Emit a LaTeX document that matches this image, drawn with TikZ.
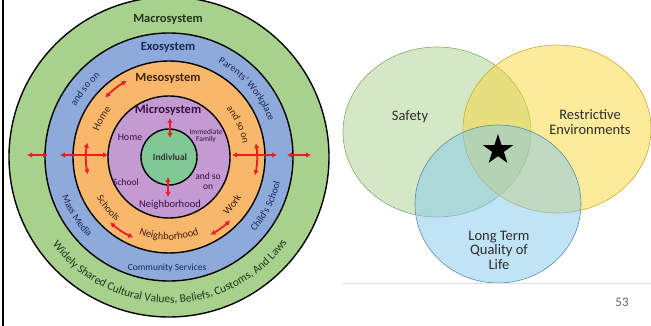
\documentclass[tikz,border=0pt]{standalone}
\usepackage{fontspec}
\setmainfont{Carlito}
\usepackage{xcolor}
\usetikzlibrary{arrows.meta, calc, decorations.text, shapes.geometric}

\definecolor{macro}{RGB}{169,209,142}
\definecolor{exo}{RGB}{142,170,219}
\definecolor{meso}{RGB}{249,183,108}
\definecolor{micro}{RGB}{196,154,211}
\definecolor{indiv}{RGB}{128,200,150}
\definecolor{arrred}{RGB}{235,28,36}
\definecolor{macrotext}{RGB}{30,55,25}
\definecolor{exotext}{RGB}{25,40,85}
\definecolor{mesotext}{RGB}{65,35,10}
\definecolor{microtext}{RGB}{55,15,70}
\definecolor{vgreen}{RGB}{170,210,140}
\definecolor{vyellow}{RGB}{250,215,55}
\definecolor{vblue}{RGB}{130,200,235}
\definecolor{vtext}{RGB}{45,45,45}

\newcommand{\fsz}[1]{\fontsize{#1}{#1}\selectfont}

\begin{document}
\begin{tikzpicture}[x=1pt, y=1pt,
    ring/.style={draw=black, line width=1.4pt},
    redarr/.style={draw=arrred, line width=1.8pt, {Latex[length=5pt,width=5.5pt]}-{Latex[length=5pt,width=5.5pt]}},
    title/.style={font=\fsz{12.5}\bfseries},
    arctext/.style n args={2}{decorate, decoration={text along path, text align=center, text color=#1, text={#2}}},
    vennset/.style={line width=0.7pt, fill opacity=0.5},
    vennlabel/.style={text=vtext, align=center, font=\fsz{14.5}}]
    \useasboundingbox (0,0) rectangle (651,326);

    % ---- left: nested systems ----
    \coordinate (ctr) at (169,169);
    \draw[line width=1.5pt] (3,0) -- (3,326);
    \foreach \r/\col in {160/macro, 124/exo, 96/meso, 61/micro, 28/indiv} {
        \draw[ring, fill=\col] (ctr) circle (\r pt);
    }

    \node[title, text=macrotext]  (macro) at (168,307) {Macrosystem};
    \node[title, text=exotext]    (exo)   at (168,279) {Exosystem};
    \node[title, text=mesotext]   (meso)  at (168,248) {Mesosystem};
    \node[title, text=microtext]  (micro) at (168,216) {Microsystem};

    \node[font=\fsz{9.5}\bfseries, text=black!80] (indv) at (170,169) {Indivlual};
    \node[font=\fsz{10}, text=microtext] (mhome) at (130,189) {Home};
    \node[font=\fsz{7.5}, text=microtext, align=center] (mfam) at (206,190) {Immediate\\Family};
    \node[font=\fsz{9.5}, text=microtext] (mschool) at (126,144) {School};
    \node[font=\fsz{9.5}, text=microtext, align=center] (mso) at (208,145) {and so\\[1pt]on};
    \node[font=\fsz{10.5}, text=microtext] (mneigh) at (170,121) {Neighborhood};

    % mesosystem ring
    \path[arctext={mesotext}{|\fsz{10.5}|Home}] ($(ctr)+(175:75pt)$) arc[start angle=175, end angle=125, radius=75pt];
    \path[arctext={mesotext}{|\fsz{10}|and so on}] ($(ctr)+(55:75pt)$) arc[start angle=55, end angle=-5, radius=75pt];
    \path[arctext={mesotext}{|\fsz{10}|Schools}] ($(ctr)+(195:83pt)$) arc[start angle=195, end angle=245, radius=83pt];
    \path[arctext={mesotext}{|\fsz{10.5}|Work}] ($(ctr)+(300:83pt)$) arc[start angle=300, end angle=346, radius=83pt];
    \path[arctext={mesotext}{|\fsz{10.5}|Neighborhood}] ($(ctr)+(235:83pt)$) arc[start angle=235, end angle=305, radius=83pt];

    % exosystem ring
    \path[arctext={exotext}{|\fsz{10}|and so on}] ($(ctr)+(170:106pt)$) arc[start angle=170, end angle=112, radius=106pt];
    \path[arctext={exotext}{|\fsz{10}|Parents' Workplace}] ($(ctr)+(78:106pt)$) arc[start angle=78, end angle=4, radius=106pt];
    \path[arctext={exotext}{|\fsz{10}|Mass Media}] ($(ctr)+(185:114pt)$) arc[start angle=185, end angle=240, radius=114pt];
    \path[arctext={exotext}{|\fsz{10}|Child's School}] ($(ctr)+(303:114pt)$) arc[start angle=303, end angle=363, radius=114pt];
    \node[font=\fsz{9.5}, text=exotext] (comm) at (167,58) {Community Services};

    % macrosystem ring
    \path[arctext={macrotext}{|\fsz{11.5}|Widely Shared Cultural Values, Beliefs, Customs, And Laws}] ($(ctr)+(203:146pt)$) arc[start angle=203, end angle=338, radius=146pt];

    % red arrows
    \draw[redarr] (170,208) -- (170,188);
    \draw[redarr] (168,149) -- (168,129);
    \draw[redarr] (60,171) -- (108,171);
    \draw[redarr] (232,171) -- (277,171);
    \draw[redarr] (27,171) -- (48,171);
    \draw[redarr] (287,171) -- (311,171);
    \draw[redarr] ($(ctr)+(192:83pt)$) arc[start angle=192, end angle=170, radius=83pt];
    \draw[redarr] ($(ctr)+(9:88pt)$) arc[start angle=9, end angle=-12, radius=88pt];
    \draw[redarr] ($(ctr)+(137:87pt)$) arc[start angle=137, end angle=119, radius=87pt];
    \draw[redarr] ($(ctr)+(228:88pt)$) arc[start angle=228, end angle=246, radius=88pt];
    \draw[redarr] ($(ctr)+(298:88pt)$) arc[start angle=298, end angle=314, radius=88pt];

    % ---- right: venn ----
    \fill[vennset, vgreen] (437,194) ellipse [x radius=94pt, y radius=85pt];
    \draw[vgreen!80!black, line width=0.6pt] (437,194) ellipse [x radius=94pt, y radius=85pt];
    \fill[vennset, vyellow] (557,197) ellipse [x radius=94pt, y radius=84pt];
    \draw[vyellow!80!black, line width=0.6pt] (557,197) ellipse [x radius=94pt, y radius=84pt];
    \fill[vennset, vblue] (498,122) ellipse [x radius=83pt, y radius=79pt];
    \draw[vblue!70!black, line width=0.6pt] (498,122) ellipse [x radius=83pt, y radius=79pt];

    \node[star, star points=5, star point ratio=2.6, fill=black, minimum size=32pt, inner sep=0pt] (star) at (498,176) {};
    \node[vennlabel] (safety) at (410,209) {Safety};
    \node[vennlabel] (restr) at (590,204) {Restrictive\\Environments};
    \node[vennlabel] (qual) at (499,76) {Long Term\\Quality of\\Life};

    \draw[black!12, line width=0.6pt] (342,43) -- (651,43);
    \node[text=black!60, font=\fsz{13}] (page) at (622,24) {53};
\end{tikzpicture}
\end{document}
